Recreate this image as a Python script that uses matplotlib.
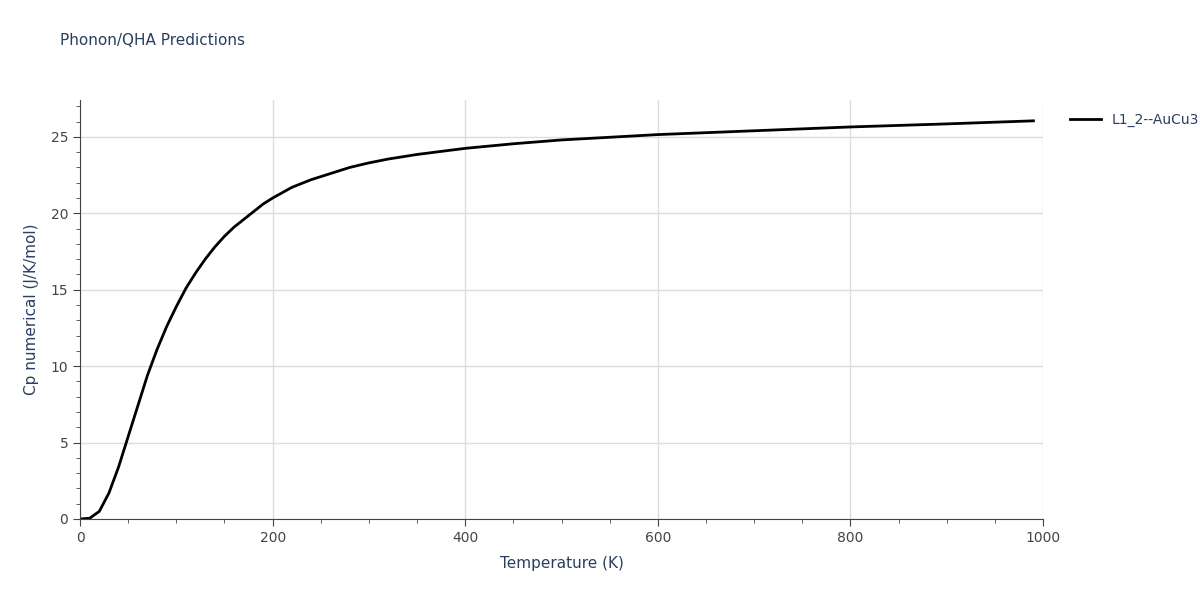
import matplotlib
matplotlib.use("Agg")
import matplotlib.pyplot as plt
from matplotlib.ticker import MultipleLocator

# data
temps = [0, 10, 20, 30, 40, 50, 60, 70, 80, 90, 100, 110, 120, 130, 140, 150, 160, 170,
         180, 190, 200, 220, 240, 260, 280, 300, 320, 350, 400, 450, 500, 600, 700, 800,
         900, 990]
cp = [0, 0.05, 0.5, 1.7, 3.4, 5.4, 7.4, 9.4, 11.1, 12.6, 13.9, 15.1, 16.1, 17.0, 17.8,
      18.5, 19.1, 19.6, 20.1, 20.6, 21.0, 21.7, 22.2, 22.6, 23.0, 23.3, 23.55, 23.85,
      24.25, 24.55, 24.8, 25.15, 25.4, 25.65, 25.85, 26.05]
series_name = "L1_2--AuCu3"

txt = "#444444"
fig = plt.figure(figsize=(12, 6), dpi=100)
ax = fig.add_axes([0.0667, 0.135, 0.8025, 0.698])
ax.plot(temps, cp, color="black", lw=2, label=series_name)
ax.set_xlim(0, 1000)
ax.set_ylim(0, 27.4)
ax.xaxis.set_major_locator(MultipleLocator(200))
ax.xaxis.set_minor_locator(MultipleLocator(50))
ax.yaxis.set_major_locator(MultipleLocator(5))
ax.yaxis.set_minor_locator(MultipleLocator(1))
ax.grid(True, which="major", color="#dddddd", lw=1)
for s in ["top", "right"]:
    ax.spines[s].set_visible(False)
for s in ["left", "bottom"]:
    ax.spines[s].set_color(txt)
ax.tick_params(which="both", colors=txt, labelsize=10)
ax.tick_params(which="major", length=5)
ax.tick_params(which="minor", length=3)
ax.set_xlabel("Temperature (K)", color="#2a3f5f", fontsize=11, labelpad=8)
ax.set_ylabel("Cp numerical (J/K/mol)", color="#2a3f5f", fontsize=11, labelpad=8)
ax.set_axisbelow(True)
fig.text(0.05, 0.925, "Phonon/QHA Predictions", color="#2a3f5f", fontsize=11)
ax.legend(loc="upper left", bbox_to_anchor=(1.015, 1.0), frameon=False,
          fontsize=10, labelcolor="#2a3f5f", handlelength=2.2)
fig.savefig("out.png", dpi=100)
